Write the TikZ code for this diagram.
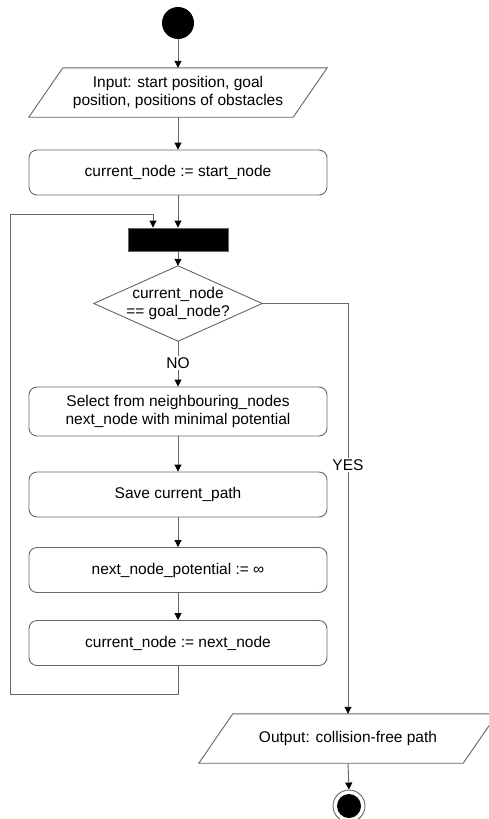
\documentclass[tikz,border=0pt]{standalone}
\usepackage{fontspec}
\setmainfont{Liberation Sans}
\usetikzlibrary{shapes.geometric,arrows.meta,calc}
\begin{document}
\begin{tikzpicture}[x=1pt,y=-1pt,
  every node/.style={font=\fontsize{15.5}{18.5}\selectfont, inner sep=0pt},
  conn/.style={draw=black!60, line width=0.9pt, -{Triangle[length=7pt,width=7pt,color=black]}},
  roundbox/.style={draw=black!60, line width=0.9pt, rounded corners=8pt, minimum width=298pt, minimum height=45pt, align=center},
  iobox/.style={minimum width=264pt, minimum height=49pt, align=center},
  outline/.style={draw=black!60, line width=0.9pt},
  decbox/.style={minimum width=168pt, minimum height=75pt, align=center},
  lab/.style={fill=white, inner sep=1.5pt}
]
\clip (0,0) rectangle (489,819);
\fill[white] (0,0) rectangle (489,819);

% start
\node[circle, fill=black, minimum size=32pt] (start) at (178,23) {};

% input
\node[iobox] (in) at (178,92.5) {Input: start position, goal\\position, positions of obstacles};
\draw[outline] ([xshift=17pt]in.north west) -- ([xshift=17pt]in.north east) -- ([xshift=-17pt]in.south east) -- ([xshift=-17pt]in.south west) -- cycle;

\node[roundbox] (init) at (178,172.5) {current\_node := start\_node};

\node[rectangle, fill=black, draw=black!60, line width=0.9pt, minimum width=100pt, minimum height=23pt] (bar) at (178,239.5) {};

\node[decbox] (dia) at (178,303.5) {current\_node\\== goal\_node?};
\draw[outline] (dia.north) -- (dia.east) -- (dia.south) -- (dia.west) -- cycle;

\node[roundbox, minimum height=49pt] (sel) at (178,411.5) {Select from neighbouring\_nodes\\next\_node with minimal potential};

\node[roundbox] (save) at (178,494.5) {Save current\_path};

\node[roundbox] (pot) at (178,570) {next\_node\_potential := ∞};

\node[roundbox] (cn2) at (178,643) {current\_node := next\_node};

% output
\node[iobox] (out) at (348,738.5) {Output: collision-free path};
\draw[outline] ([xshift=17pt]out.north west) -- ([xshift=17pt]out.north east) -- ([xshift=-17pt]out.south east) -- ([xshift=-17pt]out.south west) -- cycle;

% end
\node[circle, draw=black!60, line width=0.9pt, fill=white, minimum size=32pt] (endo) at (349,806) {};
\node[circle, fill=black, minimum size=24pt] (endi) at (349,806) {};

\coordinate (loopBL) at (10,694);
\coordinate (loopTL) at (10,214);

% connectors
\draw[conn] (start.south) -- (in.north);
\draw[conn] (in.south) -- (init.north);
\draw[conn] (init.south) -- (bar.north);
\draw[conn] (bar.south) -- (dia.north);
\draw[conn] (dia.south) -- (sel.north);
\draw[conn] (sel.south) -- (save.north);
\draw[conn] (save.south) -- (pot.north);
\draw[conn] (pot.south) -- (cn2.north);
\draw[conn] (cn2.south) |- (loopBL) -- (loopTL) -| ([xshift=-25pt]bar.north);
\draw[conn] (dia.east) -| (out.north);
\draw[conn] (out.south) -- (endo.north);

% labels
\node[lab] (no) at (178,363) {NO};
\node[lab] (yes) at (348,465) {YES};
\end{tikzpicture}
\end{document}
